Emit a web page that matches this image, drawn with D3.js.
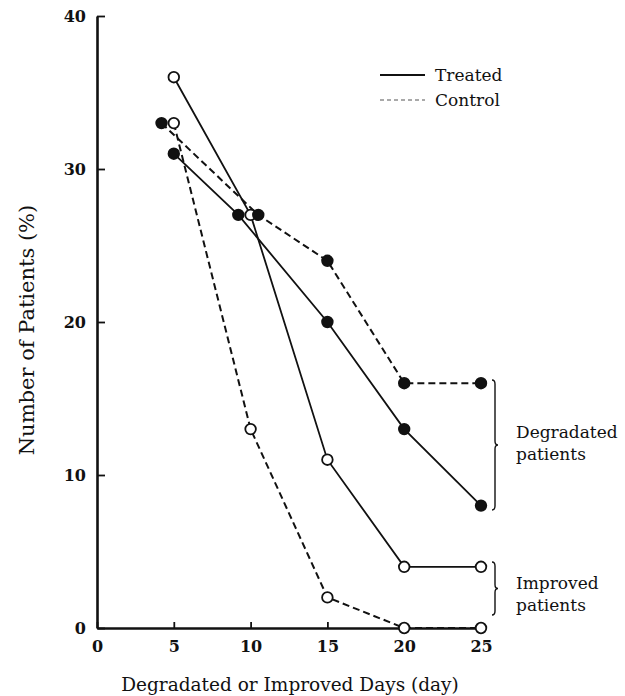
<!DOCTYPE html>
<html>
<head>
<meta charset="utf-8">
<script src="https://cdn.jsdelivr.net/npm/d3@7"></script>
<style>
  body { margin: 0; background: #fff; }
  svg { display: block; }
</style>
</head>
<body>
<div id="chart"></div>
<script>
// data (x = day, y = % of patients)
const treatedImprovedDays = [5, 10, 15, 20, 25];
const treatedImproved = [36, 27, 11, 4, 4];

const treatedDegradedDays = [5, 9.2, 15, 20, 25];
const treatedDegraded = [31, 27, 20, 13, 8];

const controlImprovedDays = [5, 10, 15, 20, 25];
const controlImproved = [33, 13, 2, 0, 0];

const controlDegradedDays = [4.2, 10.5, 15, 20, 25];
const controlDegraded = [33, 27, 24, 16, 16];

const xTicks = [0, 5, 10, 15, 20, 25];
const yTicks = [0, 10, 20, 30, 40];

const series = [
  { days: treatedImprovedDays, values: treatedImproved, dashed: false, filled: false },
  { days: treatedDegradedDays, values: treatedDegraded, dashed: false, filled: true },
  { days: controlImprovedDays, values: controlImproved, dashed: true, filled: false },
  { days: controlDegradedDays, values: controlDegraded, dashed: true, filled: true }
];

const width = 625;
const height = 696;
const serif = "'DejaVu Serif', 'Liberation Serif', serif";

const svg = d3.select("#chart")
  .append("svg")
  .attr("width", width)
  .attr("height", height);

// Scales
const x = d3.scaleLinear().domain([0, 25]).range([97, 481]);
const y = d3.scaleLinear().domain([0, 40]).range([628, 16]);

// Axes
const xAxis = svg.append("g")
  .attr("transform", `translate(0,${y(0)})`)
  .call(d3.axisBottom(x).tickValues(xTicks).tickSizeInner(-6).tickSizeOuter(0).tickPadding(13));

const yAxis = svg.append("g")
  .attr("transform", `translate(${x(0)},0)`)
  .call(d3.axisLeft(y).tickValues(yTicks).tickSizeInner(-8).tickSizeOuter(0).tickPadding(11));

[xAxis, yAxis].forEach(g => {
  g.select(".domain").attr("stroke", "#111").attr("stroke-width", 2.6);
  g.selectAll(".tick line").attr("stroke", "#111").attr("stroke-width", 1.8);
  g.selectAll("text")
    .style("font-family", serif)
    .style("font-size", "16px")
    .style("font-weight", "bold")
    .attr("fill", "#111");
});

// Lines + markers
const line = d3.line()
  .x(d => x(d[0]))
  .y(d => y(d[1]));

series.forEach(s => {
  const pts = s.days.map((d, i) => [d, s.values[i]]);
  svg.append("path")
    .datum(pts)
    .attr("d", line)
    .attr("fill", "none")
    .attr("stroke", "#111")
    .attr("stroke-width", s.dashed ? 2 : 1.8)
    .attr("stroke-dasharray", s.dashed ? "7,4" : null);
});

series.forEach(s => {
  const pts = s.days.map((d, i) => [d, s.values[i]]);
  svg.selectAll(null)
    .data(pts)
    .enter()
    .append("circle")
    .attr("cx", d => x(d[0]))
    .attr("cy", d => y(d[1]))
    .attr("r", 5.3)
    .attr("fill", s.filled ? "#111" : "#fff")
    .attr("stroke", "#111")
    .attr("stroke-width", 1.8);
});

// Legend
const legend = [
  { label: "Treated", dashed: false, y: 75 },
  { label: "Control", dashed: true, y: 100 }
];
legend.forEach(l => {
  svg.append("line")
    .attr("x1", 380).attr("x2", 425)
    .attr("y1", l.y).attr("y2", l.y)
    .attr("stroke", l.dashed ? "#555" : "#111")
    .attr("stroke-width", l.dashed ? 1.2 : 1.8)
    .attr("stroke-dasharray", l.dashed ? "4,3" : null);
  svg.append("text")
    .attr("x", 435)
    .attr("y", l.y + 6)
    .style("font-family", serif)
    .style("font-size", "17px")
    .attr("fill", "#111")
    .text(l.label);
});

// Braces on the right
function brace(x0, y0, y1) {
  const m = (y0 + y1) / 2;
  return `M${x0 - 3},${y0} Q${x0},${y0} ${x0},${y0 + 4} L${x0},${m - 4} Q${x0},${m} ${x0 + 3},${m} ` +
    `Q${x0},${m} ${x0},${m + 4} L${x0},${y1 - 4} Q${x0},${y1} ${x0 - 3},${y1}`;
}
svg.append("path")
  .attr("d", brace(495, 380, 510))
  .attr("fill", "none").attr("stroke", "#111").attr("stroke-width", 1.4);
svg.append("path")
  .attr("d", brace(495, 562, 615))
  .attr("fill", "none").attr("stroke", "#111").attr("stroke-width", 1.4);

const groupLabels = [
  { lines: ["Degradated", "patients"], y: 438 },
  { lines: ["Improved", "patients"], y: 589 }
];
groupLabels.forEach(g => {
  g.lines.forEach((t, i) => {
    svg.append("text")
      .attr("x", 516)
      .attr("y", g.y + i * 22)
      .style("font-family", serif)
      .style("font-size", "17px")
      .attr("fill", "#111")
      .text(t);
  });
});

// Axis titles
svg.append("text")
  .attr("x", 290)
  .attr("y", 691)
  .attr("text-anchor", "middle")
  .style("font-family", serif)
  .style("font-size", "18.5px")
  .attr("fill", "#111")
  .text("Degradated or Improved Days (day)");

svg.append("text")
  .attr("transform", "rotate(-90)")
  .attr("x", -330)
  .attr("y", 34)
  .attr("text-anchor", "middle")
  .style("font-family", serif)
  .style("font-size", "21px")
  .attr("fill", "#111")
  .text("Number of Patients (%)");
</script>
</body>
</html>
